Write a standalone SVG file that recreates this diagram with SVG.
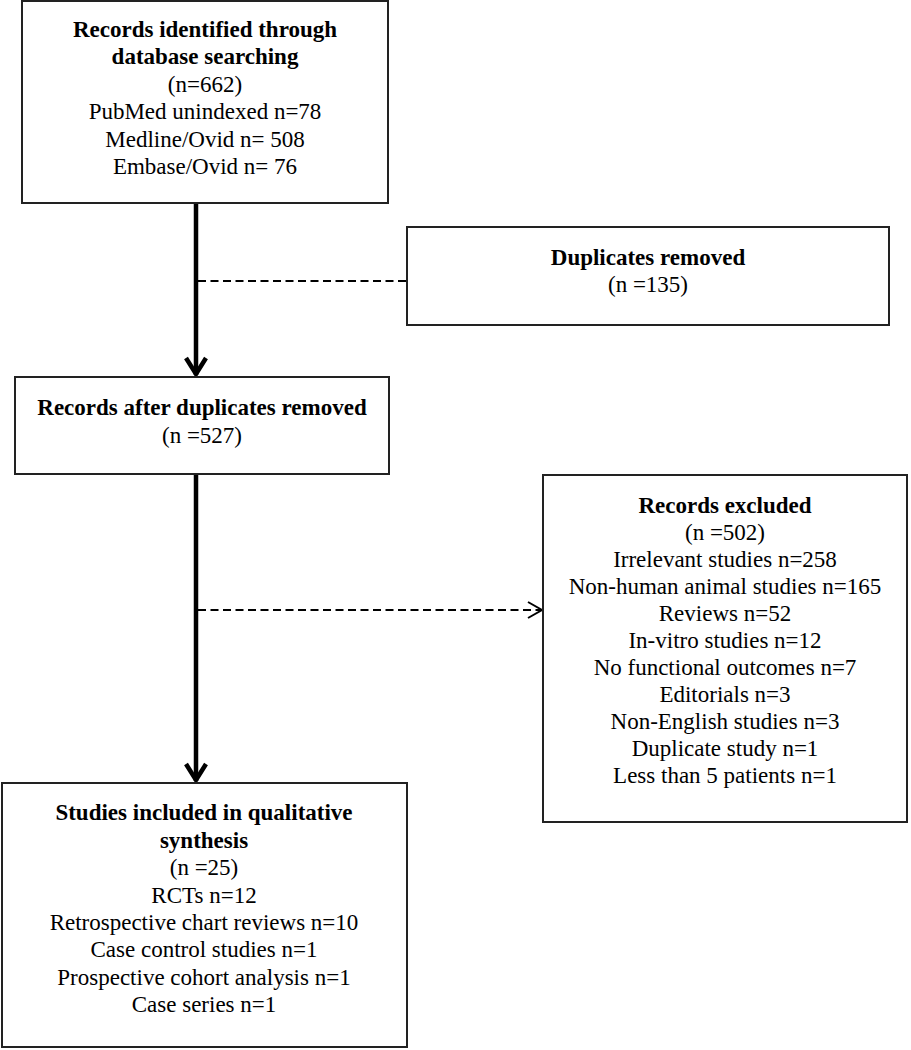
<svg xmlns="http://www.w3.org/2000/svg" width="911" height="1050" viewBox="0 0 911 1050">
<style>
.box{fill:#fff;stroke:#222;stroke-width:2}
text{font-family:"Liberation Serif","Times New Roman",serif;font-size:23px;fill:#000;text-anchor:middle}
.b{font-weight:bold}
.main{stroke:#000;stroke-width:4.5;fill:none}
.dash{stroke:#000;stroke-width:2;fill:none;stroke-dasharray:8 4.5}
</style>
<defs>
<marker id="thick" viewBox="0 0 24 24" markerWidth="24" markerHeight="24" refX="12" refY="21" markerUnits="userSpaceOnUse" orient="0">
<path d="M2,4 L12,20 L22,4" fill="none" stroke="#000" stroke-width="4.5"/>
</marker>
<marker id="open" viewBox="0 0 20 20" markerWidth="20" markerHeight="20" refX="17" refY="10" markerUnits="userSpaceOnUse" orient="auto">
<path d="M3,2 L17,10 L3,18" fill="none" stroke="#000" stroke-width="2"/>
</marker>
</defs>
<g id="connectors">
<line class="main" x1="196" y1="203" x2="196" y2="375" marker-end="url(#thick)"/>
<line class="dash" x1="198" y1="281" x2="407" y2="281"/>
<line class="main" x1="196" y1="474" x2="196" y2="781" marker-end="url(#thick)"/>
<line class="dash" x1="198" y1="610" x2="542" y2="610" marker-end="url(#open)"/>
</g>
<g id="node-identified">
<rect class="box" x="22" y="1" width="366" height="202"/>
<text class="b" x="205" y="37">Records identified through</text>
<text class="b" x="205" y="64">database searching</text>
<text x="205" y="92">(n=662)</text>
<text x="205" y="119">PubMed unindexed n=78</text>
<text x="205" y="147">Medline/Ovid n= 508</text>
<text x="205" y="174">Embase/Ovid n= 76</text>
</g>
<g id="node-duplicates">
<rect class="box" x="407" y="227" width="482" height="98"/>
<text class="b" x="648" y="265">Duplicates removed</text>
<text x="648" y="292">(n =135)</text>
</g>
<g id="node-after">
<rect class="box" x="15" y="377" width="374" height="97"/>
<text class="b" x="202" y="415">Records after duplicates removed</text>
<text x="202" y="443">(n =527)</text>
</g>
<g id="node-excluded">
<rect class="box" x="543" y="475" width="364" height="347"/>
<text class="b" x="725" y="513">Records excluded</text>
<text x="725" y="540">(n =502)</text>
<text x="725" y="567">Irrelevant studies n=258</text>
<text x="725" y="594">Non-human animal studies n=165</text>
<text x="725" y="621">Reviews n=52</text>
<text x="725" y="648">In-vitro studies n=12</text>
<text x="725" y="675">No functional outcomes n=7</text>
<text x="725" y="702">Editorials n=3</text>
<text x="725" y="729">Non-English studies n=3</text>
<text x="725" y="756">Duplicate study n=1</text>
<text x="725" y="783">Less than 5 patients n=1</text>
</g>
<g id="node-included">
<rect class="box" x="2" y="783" width="405" height="264"/>
<text class="b" x="204" y="820">Studies included in qualitative</text>
<text class="b" x="204" y="848">synthesis</text>
<text x="204" y="875">(n =25)</text>
<text x="204" y="903">RCTs n=12</text>
<text x="204" y="930">Retrospective chart reviews n=10</text>
<text x="204" y="957">Case control studies n=1</text>
<text x="204" y="985">Prospective cohort analysis n=1</text>
<text x="204" y="1012">Case series n=1</text>
</g>
</svg>
